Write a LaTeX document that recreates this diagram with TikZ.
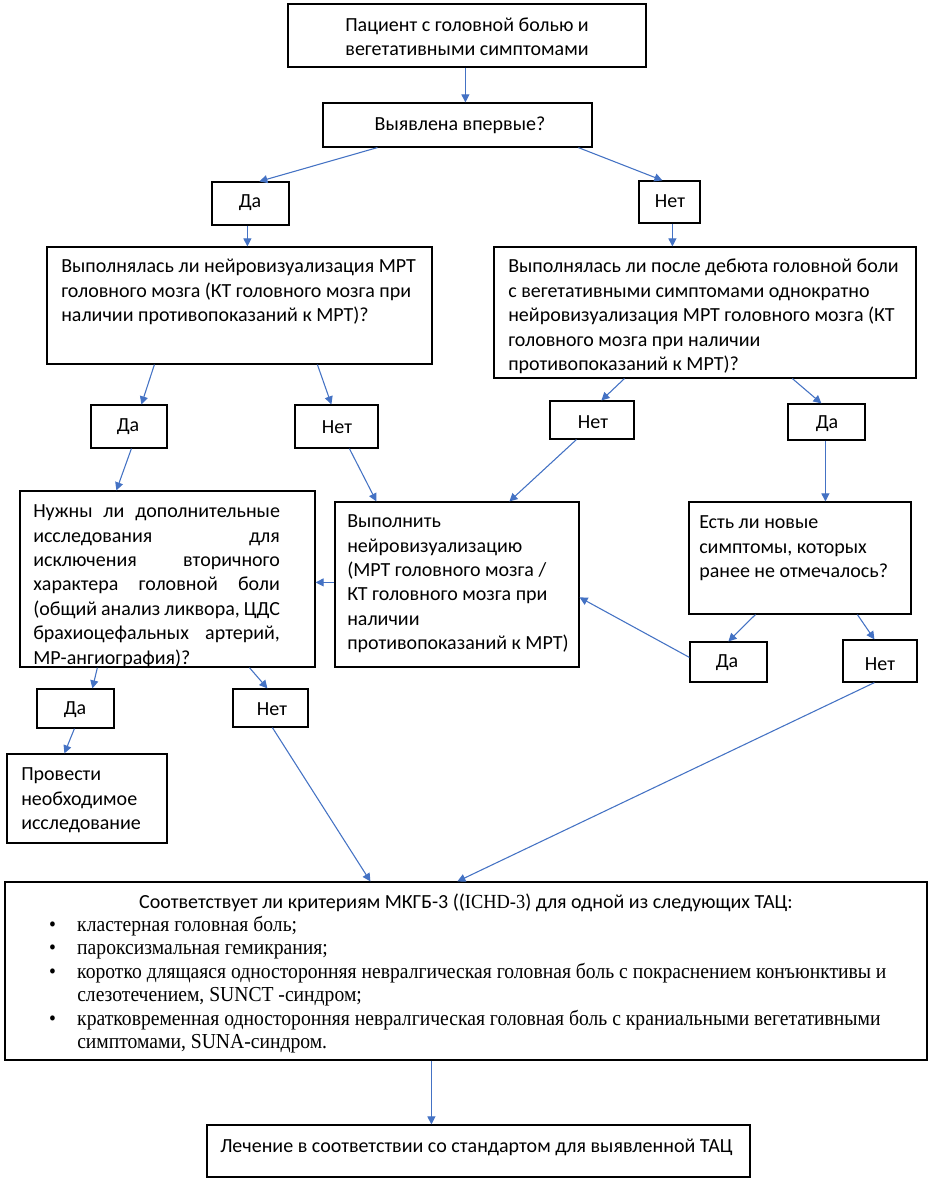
\documentclass[tikz,border=0pt]{standalone}
\usepackage{fontspec}
\setmainfont{Carlito}
\newfontfamily\tms[FakeStretch=0.92]{Liberation Serif}
\usetikzlibrary{arrows.meta,fit,calc}
\definecolor{arrowblue}{HTML}{4472C4}
\newlength\qw
\setlength\qw{185pt}
\tikzset{
  box/.style={draw=black, line width=0.9pt, inner sep=0pt, fill=white},
  lbl/.style={inner sep=0pt, font=\fontsize{15}{18}\selectfont},
  txt/.style={inner sep=0pt, anchor=north west, align=left,
              font=\fontsize{15}{18.3}\selectfont, execute at begin node=\strut},
  arr/.style={draw=arrowblue, line width=0.8pt, -{Triangle[length=6pt,width=6pt]}},
}
\begin{document}
\begin{tikzpicture}[x=0.75pt,y=-0.75pt]
\fill[white] (0,0) rectangle (932,1182);
\useasboundingbox (0,0) rectangle (932,1182);

% boxes
\node[box, fit={(288,4)(646,67)}] (b1) {};
\node[lbl, align=center] at (467,37) (b1t) {Пациент с головной болью и\\вегетативными симптомами};
\node[box, fit={(323,103)(592,147)}] (b2) {};
\node[lbl] at (460,125) (b2t) {Выявлена впервые?};

\node[box, fit={(212,182)(289,225)}] (da1) {};
\node[lbl] at (250,203) (da1t) {Да};
\node[box, fit={(639,181)(700,223)}] (net1) {};
\node[lbl] at (670,201) (net1t) {Нет};

\node[box, fit={(47,247)(432,364)}] (q1l) {};
\node[txt] at (61,259) (q1lt) {Выполнялась ли нейровизуализация МРТ\\головного мозга (КТ головного мозга при\\наличии противопоказаний к МРТ)?};

\node[box, fit={(494,247)(916,378)}] (q1r) {};
\node[txt] at (508,259) (q1rt) {Выполнялась ли после дебюта головной боли\\с вегетативными симптомами однократно\\нейровизуализация МРТ головного мозга (КТ\\головного мозга при наличии\\противопоказаний к МРТ)?};

\node[box, fit={(91,405)(167,448)}] (da2) {};
\node[lbl] at (128,427) (da2t) {Да};
\node[box, fit={(295,405)(378,448)}] (net2) {};
\node[lbl] at (337,427) (net2t) {Нет};
\node[box, fit={(550,401)(634,439)}] (net3) {};
\node[lbl] at (593,422) (net3t) {Нет};
\node[box, fit={(788,404)(865,440)}] (da3) {};
\node[lbl] at (827,424) (da3t) {Да};

\node[box, fit={(20,491)(315,667)}] (q2l) {};
\node[txt] at (33,504.5) (q2lt) {\makebox[\qw][s]{Нужны ли дополнительные}\\\makebox[\qw][s]{исследования для}\\\makebox[\qw][s]{исключения вторичного}\\\makebox[\qw][s]{характера головной боли}\\\makebox[\qw][s]{(общий анализ ликвора, ЦДС}\\\makebox[\qw][s]{брахиоцефальных артерий,}\\МР-ангиография)?};

\node[box, fit={(335,502)(579,667)}] (vyp) {};
\node[txt] at (347,514.5) (vypt) {Выполнить\\нейровизуализацию\\(МРТ головного мозга /\\КТ головного мозга при\\наличии\\противопоказаний к МРТ)};

\node[box, fit={(689,502)(911,614)}] (est) {};
\node[txt] at (699,515.5) (estt) {Есть ли новые\\симптомы, которых\\ранее не отмечалось?};

\node[box, fit={(690,642)(767,682)}] (da4) {};
\node[lbl] at (727,663) (da4t) {Да};
\node[box, fit={(843,640)(917,682)}] (net4) {};
\node[lbl] at (880,664) (net4t) {Нет};
\node[box, fit={(37,689)(114,728)}] (da5) {};
\node[lbl] at (75,710) (da5t) {Да};
\node[box, fit={(233,689)(308,727)}] (net5) {};
\node[lbl] at (272,709) (net5t) {Нет};

\node[box, fit={(7,754)(167,843)}] (prov) {};
\node[txt] at (21,767.5) (provt) {Провести\\необходимое\\исследование};

\node[box, fit={(5,882)(927,1060)}] (big) {};
\node[lbl] at (466,903) (bigt) {Соответствует ли критериям МКГБ-3 (({\tms ICHD-3}) для одной из следующих ТАЦ:};
\node[inner sep=0pt, anchor=north west, align=left, font=\tms\fontsize{16}{17.55}\selectfont, execute at begin node=\strut] at (77,916) (bull) {%
\llap{•\hspace{16pt}}кластерная головная боль;\\
\llap{•\hspace{16pt}}пароксизмальная гемикрания;\\
\llap{•\hspace{16pt}}коротко длящаяся односторонняя невралгическая головная боль с покраснением конъюнктивы и\\
слезотечением, SUNCT -синдром;\\
\llap{•\hspace{16pt}}кратковременная односторонняя невралгическая головная боль с краниальными вегетативными\\
симптомами, SUNA-синдром.};

\node[box, fit={(207,1125)(750,1177)}] (lech) {};
\node[inner sep=0pt, anchor=base west, font=\fontsize{15}{18}\selectfont] at (220,1152) (lecht) {Лечение в соответствии со стандартом для выявленной ТАЦ};

% connectors
\draw[arr] ($(b1.south west)+(178,0)$) -- ($(b2.north west)+(143,0)$);
\draw[arr] ($(b2.south west)+(55,0)$) -- ($(da1.north west)+(48,0)$);
\draw[arr] ($(b2.south west)+(256,0)$) -- ($(net1.north west)+(24,0)$);
\draw[arr] ($(da1.south west)+(36,0)$) -- ($(q1l.north west)+(201,0)$);
\draw[arr] ($(net1.south west)+(34,0)$) -- ($(q1r.north west)+(179,0)$);
\draw[arr] ($(q1l.south west)+(108,0)$) -- ($(da2.north west)+(51,0)$);
\draw[arr] ($(q1l.south west)+(271,0)$) -- ($(net2.north west)+(37,0)$);
\draw[arr] ($(q1r.south west)+(131,0)$) -- ($(net3.north west)+(52,0)$);
\draw[arr] ($(q1r.south west)+(299,0)$) -- ($(da3.north west)+(34,0)$);
\draw[arr] ($(da2.south west)+(41,0)$) -- ($(q2l.north west)+(97,0)$);
\draw[arr] ($(net2.south west)+(55,0)$) -- ($(vyp.north west)+(42,0)$);
\draw[arr] ($(net3.south west)+(27,0)$) -- ($(vyp.north west)+(175,0)$);
\draw[arr] ($(da3.south west)+(38,0)$) -- ($(est.north west)+(137,0)$);
\draw[arr] ($(vyp.north west)+(0,81)$) -- ($(q2l.north east)+(0,92)$);
\draw[arr] ($(est.south west)+(67,0)$) -- ($(da4.north west)+(39,0)$);
\draw[arr] ($(est.south west)+(169,0)$) -- ($(net4.north west)+(32,0)$);
\draw[arr] ($(da4.north west)+(0,16)$) -- ($(vyp.north east)+(0,96)$);
\draw[arr] ($(q2l.south west)+(78,0)$) -- ($(da5.north west)+(56,0)$);
\draw[arr] ($(q2l.south west)+(230,0)$) -- ($(net5.north west)+(35,0)$);
\draw[arr] ($(da5.south west)+(38,0)$) -- ($(prov.north west)+(58,0)$);
\draw[arr] ($(net5.south west)+(40,0)$) -- ($(big.north west)+(366,0)$);
\draw[arr] ($(net4.south west)+(32,0)$) -- ($(big.north west)+(453,0)$);
\draw[arr] ($(big.south west)+(427,0)$) -- ($(lech.north west)+(225,0)$);
\end{tikzpicture}
\end{document}
